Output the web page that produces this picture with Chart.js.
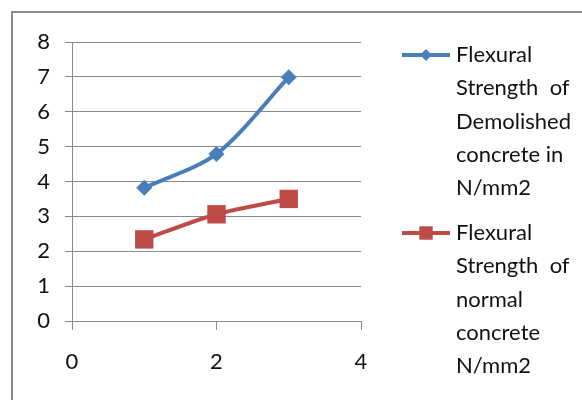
<!DOCTYPE html>
<html>
<head>
<meta charset="utf-8">
<script src="https://cdn.jsdelivr.net/npm/chart.js@4/dist/chart.umd.min.js"></script>
<style>
  html, body { margin: 0; padding: 0; background: #fff; }
  #wrap { position: relative; width: 582px; height: 400px; overflow: hidden; }
  #frame { position: absolute; left: 11px; top: 11px; width: 640px; height: 440px; border: 2px solid #8a8a8a; box-sizing: border-box; }
  canvas { position: absolute; left: 0; top: 0; }
</style>
</head>
<body>
<div id="wrap">
  <div id="frame"></div>
  <canvas id="chart" width="582" height="400"></canvas>
</div>
<script>
// values
const xValues = [1, 2, 3];
const demolished = [3.82, 4.79, 6.99];
const normal = [2.34, 3.06, 3.50];

const seriesLabels = [
    ['Flexural', 'Strength  of', 'Demolished', 'concrete in', 'N/mm2'],
    ['Flexural', 'Strength  of', 'normal', 'concrete', 'N/mm2']
];

const blue = '#4a7ebb';
const red = '#be4b48';
const font = 'Lato, "Liberation Sans", sans-serif';

// legend drawn on the canvas, lines wrapped like the original
const sideLegend = {
    id: 'sideLegend',
    afterDraw(chart) {
        const ctx = chart.ctx;
        const tops = [55, 233];
        ctx.save();
        chart.data.datasets.forEach((ds, i) => {
            const y = tops[i];
            ctx.strokeStyle = ds.borderColor;
            ctx.lineWidth = 4;
            ctx.beginPath();
            ctx.moveTo(402, y);
            ctx.lineTo(450, y);
            ctx.stroke();
            ctx.fillStyle = ds.backgroundColor;
            Chart.helpers.drawPoint(ctx, {
                pointStyle: ds.pointStyle,
                radius: i === 0 ? 6 : 9.5,
                borderWidth: 0
            }, 426, y);
            ctx.fillStyle = '#111';
            ctx.font = '22px ' + font;
            ctx.textBaseline = 'middle';
            ctx.textAlign = 'left';
            seriesLabels[i].forEach((line, k) => {
                ctx.fillText(line, 456, y + k * 33.3);
            });
        });
        ctx.restore();
    }
};

new Chart(document.getElementById('chart'), {
    type: 'scatter',
    data: {
        datasets: [
            {
                label: seriesLabels[0].join(' '),
                data: xValues.map((x, i) => ({ x: x, y: demolished[i] })),
                showLine: true,
                borderColor: blue,
                backgroundColor: blue,
                borderWidth: 4,
                pointStyle: 'rectRot',
                pointRadius: 8,
                pointBorderWidth: 0,
                tension: 0.3
            },
            {
                label: seriesLabels[1].join(' '),
                data: xValues.map((x, i) => ({ x: x, y: normal[i] })),
                showLine: true,
                borderColor: red,
                backgroundColor: red,
                borderWidth: 4,
                pointStyle: 'rect',
                pointRadius: 13,
                pointBorderWidth: 0,
                tension: 0.3
            }
        ]
    },
    options: {
        responsive: false,
        animation: false,
        layout: { padding: { left: 0, top: 42, right: 221, bottom: 0 } },
        plugins: {
            legend: { display: false },
            tooltip: { enabled: false }
        },
        scales: {
            x: {
                min: 0,
                max: 4,
                afterFit: (s) => { s.height = 79; },
                ticks: {
                    stepSize: 2,
                    color: '#111',
                    font: { family: font, size: 22 },
                    padding: 19
                },
                grid: { drawOnChartArea: false, tickLength: 9, color: '#8a8a8a' },
                border: { color: '#8a8a8a' }
            },
            y: {
                min: 0,
                max: 8,
                afterFit: (s) => { s.width = 72; },
                ticks: {
                    stepSize: 1,
                    color: '#111',
                    font: { family: font, size: 22 },
                    padding: 15
                },
                grid: { tickLength: 7, color: '#8a8a8a' },
                border: { color: '#8a8a8a' }
            }
        }
    },
    plugins: [sideLegend]
});
</script>
</body>
</html>
